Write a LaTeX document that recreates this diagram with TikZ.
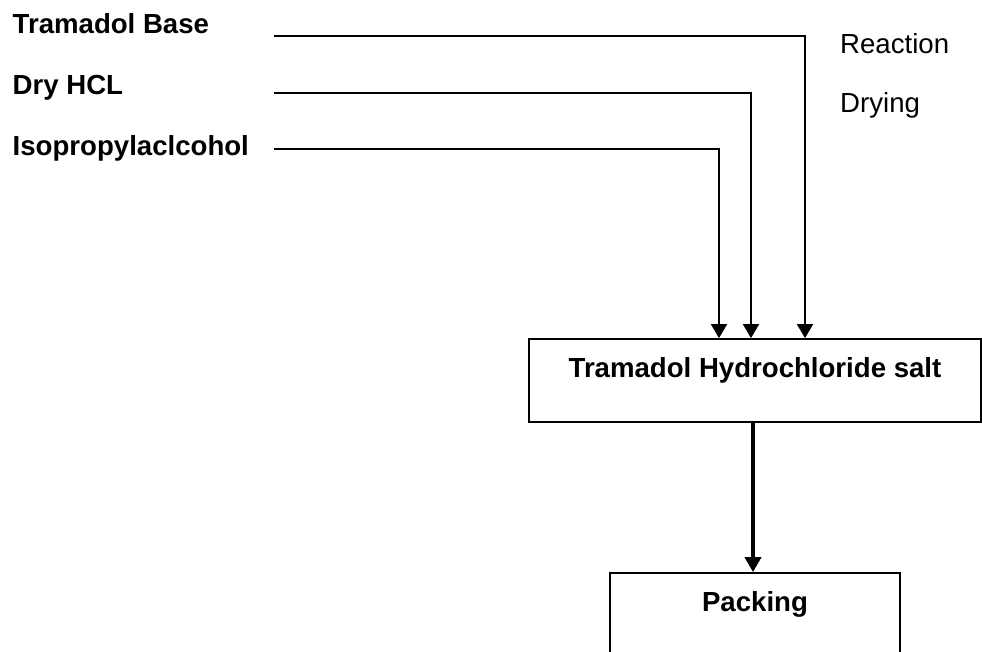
\documentclass[tikz,border=0pt]{standalone}
\usepackage{fontspec}
\setmainfont{Liberation Sans}
\usetikzlibrary{arrows.meta}
\begin{document}
\begin{tikzpicture}[x=1pt,y=-1pt,
  every node/.style={font=\fontsize{27.6}{32}\selectfont, inner sep=0pt},
  inlabel/.style={anchor=base west, font=\fontsize{27.6}{32}\selectfont\bfseries},
  sidelabel/.style={anchor=base west},
  feed/.style={line width=1.8pt, -{Triangle[length=14pt,width=16pt]}},
  mainflow/.style={line width=4pt, -{Triangle[length=15pt,width=16pt]}},
  stepbox/.style={draw, line width=1.8pt, anchor=base, inner xsep=0pt, inner ysep=0pt,
    font=\fontsize{27.6}{32}\selectfont\bfseries, text height=38pt}]
  \clip (0,0) rectangle (982,651);
  \fill[white] (0,0) rectangle (982,651);

  % raw materials
  \node[inlabel] (tb)  at (12.5,33)  {Tramadol Base};
  \node[inlabel] (hcl) at (12.5,94)  {Dry HCL};
  \node[inlabel] (ipa) at (12.5,155) {Isopropylaclcohol};

  % operations
  \node[sidelabel] (reac) at (840,53)  {Reaction};
  \node[sidelabel] (dry)  at (840,112) {Drying};

  % process steps
  \node[stepbox, minimum width=452pt, text depth=45pt] (salt) at (755,377)
    {Tramadol Hydrochloride salt};
  \node[stepbox, minimum width=290pt, text depth=80pt] (pack) at (755,611)
    {Packing};

  % feed lines
  \coordinate (tbs)  at (274,36);
  \coordinate (hcls) at (274,93);
  \coordinate (ipas) at (274,149);
  \draw[feed] (tbs)  -| ([xshift=50pt]salt.north);
  \draw[feed] (hcls) -| ([xshift=-4pt]salt.north);
  \draw[feed] (ipas) -| ([xshift=-36pt]salt.north);

  % main flow
  \draw[mainflow] ([xshift=-2pt]salt.south) -- ([xshift=-2pt]pack.north);
\end{tikzpicture}
\end{document}
